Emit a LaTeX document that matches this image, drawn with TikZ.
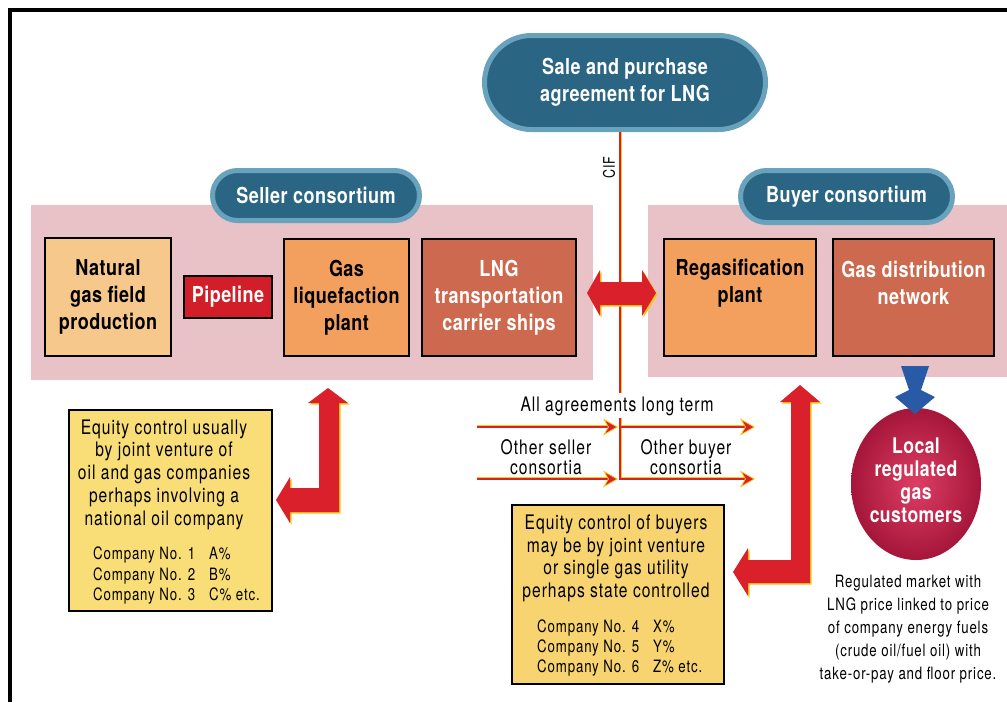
\documentclass[tikz,border=0pt]{standalone}
\usepackage{fontspec}
\usetikzlibrary{arrows.meta,shapes.geometric}
\newfontfamily\hreg{TeX Gyre Heros}[FakeStretch=0.78,LetterSpace=5]
\newfontfamily\hbold{TeX Gyre Heros}[FakeStretch=0.82,LetterSpace=2]
\definecolor{pinkbg}{RGB}{232,194,198}
\definecolor{peach}{RGB}{246,200,140}
\definecolor{orangebox}{RGB}{243,160,95}
\definecolor{brick}{RGB}{204,105,78}
\definecolor{pipered}{RGB}{210,30,40}
\definecolor{arrowred}{RGB}{218,32,42}
\definecolor{edgeyellow}{RGB}{245,200,20}
\definecolor{yellowbox}{RGB}{249,222,120}
\definecolor{yellowboxb}{RGB}{247,212,112}
\definecolor{pilldark}{RGB}{42,102,132}
\definecolor{pillrim}{RGB}{105,162,188}
\definecolor{arrowblue}{RGB}{40,90,165}
\definecolor{ballout}{RGB}{165,22,58}
\definecolor{ballin}{RGB}{222,62,100}
\begin{document}
\begin{tikzpicture}[x=1pt,y=-1pt,
  pill/.style={fill=pilldark,draw=pillrim,line width=5pt,inner sep=0pt,
    text=white,align=center,font=\hbold\bfseries\fontsize{22}{27}\selectfont},
  zone/.style={fill=pinkbg,inner sep=0pt},
  unitbox/.style={draw=black,line width=1.8pt,inner sep=0pt,align=center,
    font=\hbold\bfseries\fontsize{22}{27}\selectfont},
  equitybox/.style={draw=black,line width=1.8pt,inner sep=0pt},
  bodytext/.style={align=center,inner sep=0pt,font=\hreg\fontsize{20}{22.8}\selectfont},
  complist/.style={align=left,anchor=west,inner sep=0pt,font=\hreg\fontsize{17}{20.5}\selectfont},
  thinred/.style={draw=arrowred,line width=2.2pt},
  thinedge/.style={draw=edgeyellow,line width=1.2pt},
  thinarrow/.style={thinred,-{Stealth[length=15pt,width=17pt,inset=5pt,fill=arrowred,color=edgeyellow,line width=0.8pt]}},
  fatarrow/.style={fill=arrowred},
  fatedge/.style={fill=edgeyellow}
]
\useasboundingbox (0,0) rectangle (1007,702);
\fill[white] (0,0) rectangle (1007,702);

% outer frame (top and left edges)
\draw[line width=4pt] (9.5,702) -- (9.5,9.5) -- (1007,9.5);

% consortium zones
\node[zone,minimum width=562pt,minimum height=175pt] (sellerzone) at (312,292.5) {};
\node[zone,minimum width=359pt,minimum height=172pt] (buyerzone) at (827.5,291) {};

% seller chain
\node[unitbox,fill=peach,minimum width=126pt,minimum height=118pt] (field) at (108,297)
  {Natural\\gas field\\production};
\node[unitbox,fill=pipered,text=white,minimum width=88pt,minimum height=42pt] (pipeline) at (228,297) {Pipeline};
\node[unitbox,fill=orangebox,minimum width=125pt,minimum height=117pt] (liquefy) at (346.5,297.5)
  {Gas\\liquefaction\\plant};
\node[unitbox,fill=brick,text=white,minimum width=154pt,minimum height=117pt] (ships) at (499,297.5)
  {LNG\\transportation\\carrier ships};

% buyer chain
\node[unitbox,fill=orangebox,minimum width=152pt,minimum height=117pt] (regas) at (740,297.5) {};
\node[unitbox,draw=none,fill=none] (regastext) at (740,283) {Regasification\\plant};
\node[unitbox,fill=brick,minimum width=161pt,minimum height=117pt] (distrib) at (913.5,297.5) {};
\node[unitbox,draw=none,fill=none,text=white] (distribtext) at (913.5,283) {Gas distribution\\network};

% headings
\node[pill,minimum width=281pt,minimum height=94pt,rounded corners=47pt] (spa) at (625,82.5)
  {Sale and purchase\\agreement for LNG};
\node[pill,minimum width=207pt,minimum height=50pt,rounded corners=25pt] (seller) at (316,195.5)
  {Seller consortium};
\node[pill,minimum width=212pt,minimum height=52pt,rounded corners=26pt] (buyer) at (846.5,196.5)
  {Buyer consortium};

% CIF line from the agreement down through the long-term arrows
\coordinate (cifA) at (620,132);
\coordinate (cifB) at (620,393);
\coordinate (cifC) at (620,418);
\coordinate (cifD) at (620,480);
\draw[thinedge] ([xshift=1.2pt]cifA) -- ([xshift=1.2pt]cifB);
\draw[thinedge] ([xshift=1.2pt]cifC) -- ([xshift=1.2pt]cifD);
\draw[thinred,line width=1.8pt] (cifA) -- (cifB);
\draw[thinred,line width=1.8pt] (cifC) -- (cifD);
\node[rotate=90,inner sep=0pt,font=\hreg\fontsize{16}{18}\selectfont] (cif) at (609,167.5) {CIF};

% double arrow between the consortia
\fill[fatedge,shift={(1.5,1.5)}] (587,293) -- (600,270) -- (600,282) -- (642,282) -- (642,270) -- (656,293)
  -- (642,316) -- (642,305) -- (600,305) -- (600,316) -- cycle;
\fill[fatarrow] (587,293) -- (600,270) -- (600,282) -- (642,282) -- (642,270) -- (656,293)
  -- (642,316) -- (642,305) -- (600,305) -- (600,316) -- cycle;

% seller equity
\node[equitybox,fill=yellowbox,minimum width=203pt,minimum height=201pt] (sellereq) at (170.5,510.5) {};
\node[bodytext] (sellereqtext) at (164,474.5)
  {Equity control usually\\by joint venture of\\oil and gas companies\\perhaps involving a\\national oil company};
\node[complist] (sellercos) at (93,575.5)
  {\makebox[116pt][l]{Company No. 1}A\%\\\makebox[116pt][l]{Company No. 2}B\%\\\makebox[116pt][l]{Company No. 3}C\% etc.};

% seller L-arrow
\fill[fatedge,shift={(1.5,1.5)}] (328,388) -- (348,403) -- (339,403) -- (339,512) -- (290,512) -- (290,523)
  -- (276,500) -- (290,477) -- (290,488) -- (319,488) -- (319,403) -- (308,403) -- cycle;
\fill[fatarrow] (328,388) -- (348,403) -- (339,403) -- (339,512) -- (290,512) -- (290,523)
  -- (276,500) -- (290,477) -- (290,488) -- (319,488) -- (319,403) -- (308,403) -- cycle;

% long-term agreements
\node[bodytext] (longterm) at (617,406) {All agreements long term};
\coordinate (u1) at (477,427); \coordinate (u2) at (618,427);
\coordinate (u3) at (621,427); \coordinate (u4) at (755,427);
\coordinate (l1) at (477,479); \coordinate (l2) at (618,479);
\coordinate (l3) at (621,479); \coordinate (l4) at (755,479);
\foreach \a/\b in {u1/u2,u3/u4,l1/l2,l3/l4}{
  \draw[thinedge] ([yshift=1.3pt]\a) -- ([yshift=1.3pt,xshift=-10pt]\b);
  \draw[thinarrow] (\a) -- (\b);
}
\node[bodytext,font=\hreg\fontsize{20}{20}\selectfont] (othersell) at (546,457.5) {Other seller\\consortia};
\node[bodytext,font=\hreg\fontsize{20}{20}\selectfont] (otherbuy) at (686,457.5) {Other buyer\\consortia};

% buyer equity
\node[equitybox,fill=yellowboxb,minimum width=212pt,minimum height=179pt] (buyereq) at (618,594.5) {};
\node[bodytext,font=\hreg\fontsize{20}{22.5}\selectfont] (buyereqtext) at (616,558.5)
  {Equity control of buyers\\may be by joint venture\\or single gas utility\\perhaps state controlled};
\node[complist,font=\hreg\fontsize{17}{20}\selectfont] (buyercos) at (537,648)
  {\makebox[116pt][l]{Company No. 4}X\%\\\makebox[116pt][l]{Company No. 5}Y\%\\\makebox[116pt][l]{Company No. 6}Z\% etc.};

% buyer L-arrow
\fill[fatedge,shift={(1.5,1.5)}] (800,385) -- (820,402) -- (810,402) -- (810,583) -- (748,583) -- (748,596)
  -- (733,572) -- (748,548) -- (748,560) -- (791,560) -- (791,402) -- (780,402) -- cycle;
\fill[fatarrow] (800,385) -- (820,402) -- (810,402) -- (810,583) -- (748,583) -- (748,596)
  -- (733,572) -- (748,548) -- (748,560) -- (791,560) -- (791,402) -- (780,402) -- cycle;

% local customers
\node[ellipse,inner color=ballin,outer color=ballout,minimum width=130pt,minimum height=152pt,inner sep=0pt]
  (customers) at (916,484) {};
\node[align=center,inner sep=0pt,text=white,font=\hbold\bfseries\fontsize{21.5}{23}\selectfont]
  (customerstext) at (916,480) {Local\\regulated\\gas\\customers};
\fill[arrowblue] (901,366) -- (929,366) -- (921,390) -- (935,397) -- (915,414) -- (895,397) -- (909,390) -- cycle;

\node[bodytext,font=\hreg\fontsize{17}{23}\selectfont] (market) at (908,629)
  {Regulated market with\\LNG price linked to price\\of company energy fuels\\(crude oil/fuel oil) with\\take-or-pay and floor price.};
\end{tikzpicture}
\end{document}
